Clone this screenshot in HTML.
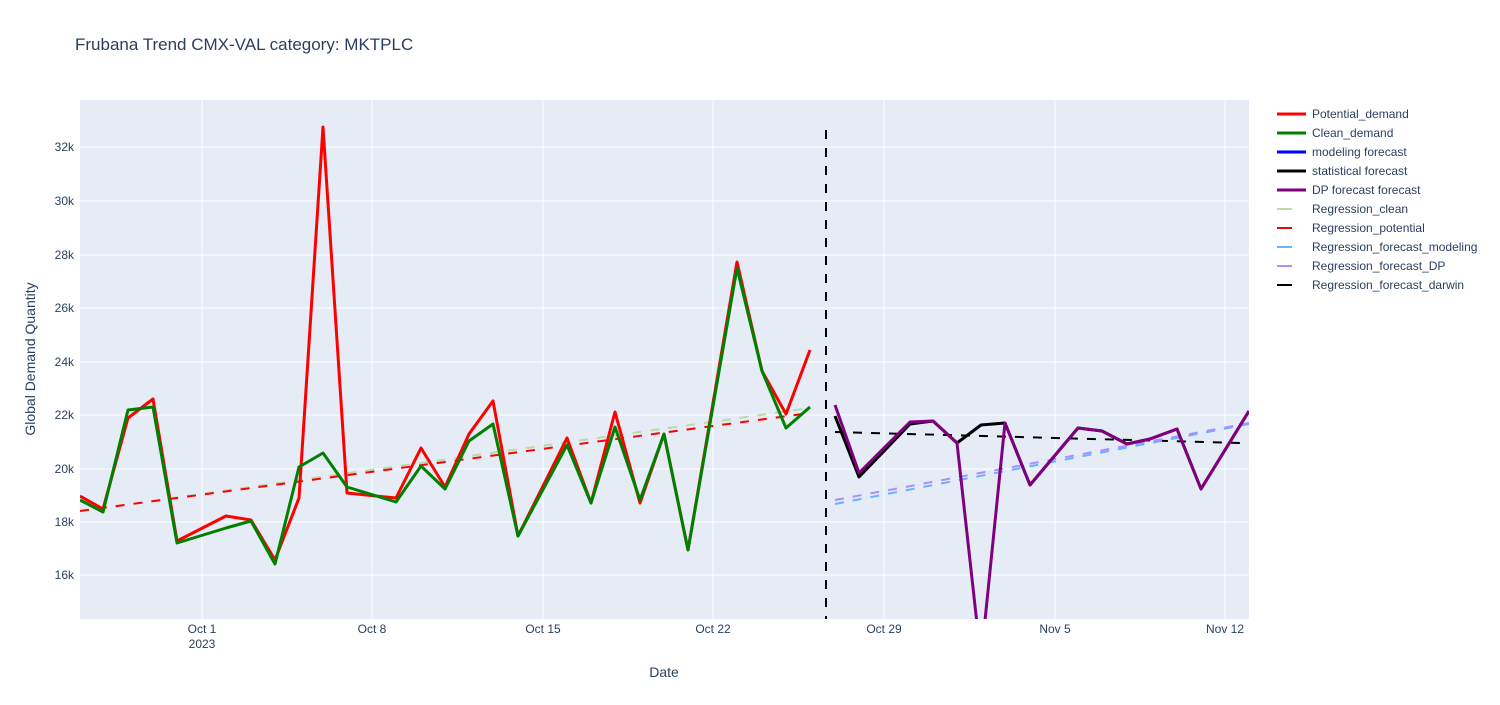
<!DOCTYPE html>
<html><head><meta charset="utf-8"><style>
html,body{margin:0;padding:0;background:#fff;}
svg text{font-family:"Liberation Sans","DejaVu Sans",sans-serif;fill:#2a3f5f;}
</style></head><body>
<svg width="1500" height="700" xmlns="http://www.w3.org/2000/svg">
<defs><clipPath id="c"><rect x="80" y="100" width="1169" height="519"/></clipPath></defs>
<rect x="80" y="100" width="1169" height="519" fill="#e5ecf6"/>
<g stroke="#fff" stroke-width="1">
<line x1="80" x2="1249" y1="147" y2="147"/><line x1="80" x2="1249" y1="201" y2="201"/>
<line x1="80" x2="1249" y1="255" y2="255"/><line x1="80" x2="1249" y1="308" y2="308"/>
<line x1="80" x2="1249" y1="362" y2="362"/><line x1="80" x2="1249" y1="415" y2="415"/>
<line x1="80" x2="1249" y1="469" y2="469"/><line x1="80" x2="1249" y1="522" y2="522"/>
<line x1="80" x2="1249" y1="575" y2="575"/>
<line y1="100" y2="619" x1="202" x2="202"/><line y1="100" y2="619" x1="372" x2="372"/>
<line y1="100" y2="619" x1="543" x2="543"/><line y1="100" y2="619" x1="713" x2="713"/>
<line y1="100" y2="619" x1="884" x2="884"/><line y1="100" y2="619" x1="1055" x2="1055"/>
<line y1="100" y2="619" x1="1225" x2="1225"/>
</g>
<g clip-path="url(#c)" fill="none" stroke-linejoin="round">
<polyline stroke="#b5dcaa" stroke-width="2" stroke-dasharray="9,9" points="80,511 810,408"/>
<polyline stroke="#ff0000" stroke-width="2" stroke-dasharray="9,9" points="80,511 810,413"/>
<polyline stroke="#ff0000" stroke-width="3" points="80,496 103,509 128,418 153,399 177,541 226,516 251,520 275,560 299,498 323,127 347,493 396,498 421,448 445,487 469,434 493,401 518,536 567,438 591,503 615,412 640,503 664,434 688,550 737,262 762,371 786,414 810,350"/>
<polyline stroke="#008000" stroke-width="3" points="80,500 103,512 128,410 153,407 177,543 226,528 251,521 275,564 299,467 323,453 347,487 396,502 421,466 445,489 469,441 493,424 518,536 567,445 591,503 615,427 640,500 664,434 688,550 737,268 762,371 786,428 810,407"/>
<polyline stroke="#000" stroke-width="2" stroke-dasharray="9,9" points="835,432 1241,443"/>
<polyline stroke="#66b3ff" stroke-width="2" stroke-dasharray="9,9" points="835,504 1249,424"/>
<polyline stroke="#b08cff" stroke-width="2" stroke-dasharray="9,9" points="835,500 1249,423"/>
<polyline stroke="#000" stroke-width="3" points="835,416 859,477 910,424 933,421 957,443 981,425 1005,423 1030,485 1078,428 1102,431 1127,444 1150,439 1177,429 1201,489 1249,411"/>
<polyline stroke="#800080" stroke-width="3" points="835,405 859,473 910,422 933,421 957,443 981,660 1005,423 1030,485 1078,428 1102,431 1127,444 1150,439 1177,429 1201,489 1249,411"/>
</g>
<line x1="826" x2="826" y1="130" y2="619" stroke="#000" stroke-width="2" stroke-dasharray="9,9"/>
<g font-size="12" text-anchor="end">
<text x="74" y="151">32k</text><text x="74" y="205">30k</text><text x="74" y="259">28k</text>
<text x="74" y="312">26k</text><text x="74" y="366">24k</text><text x="74" y="419">22k</text>
<text x="74" y="473">20k</text><text x="74" y="526">18k</text><text x="74" y="579">16k</text>
</g>
<g font-size="12" text-anchor="middle">
<text x="202" y="633">Oct 1</text><text x="202" y="648">2023</text>
<text x="372" y="633">Oct 8</text><text x="543" y="633">Oct 15</text><text x="713" y="633">Oct 22</text>
<text x="884" y="633">Oct 29</text><text x="1055" y="633">Nov 5</text><text x="1225" y="633">Nov 12</text>
</g>
<text x="664" y="677" font-size="14" text-anchor="middle">Date</text>
<text transform="translate(35,359) rotate(-90)" font-size="14" text-anchor="middle">Global Demand Quantity</text>
<text x="75" y="50" font-size="17">Frubana Trend CMX-VAL category: MKTPLC</text>
<g font-size="12">
<line x1="1277" x2="1306" y1="114" y2="114" stroke="#ff0000" stroke-width="3"/><text x="1312" y="118">Potential_demand</text>
<line x1="1277" x2="1306" y1="133" y2="133" stroke="#008000" stroke-width="3"/><text x="1312" y="137">Clean_demand</text>
<line x1="1277" x2="1306" y1="152" y2="152" stroke="#0000ff" stroke-width="3"/><text x="1312" y="156">modeling forecast</text>
<line x1="1277" x2="1306" y1="171" y2="171" stroke="#000" stroke-width="3"/><text x="1312" y="175">statistical forecast</text>
<line x1="1277" x2="1306" y1="190" y2="190" stroke="#800080" stroke-width="3"/><text x="1312" y="194">DP forecast forecast</text>
<line x1="1277" x2="1292" y1="209" y2="209" stroke="#b5dcaa" stroke-width="2"/><text x="1312" y="213">Regression_clean</text>
<line x1="1277" x2="1292" y1="228" y2="228" stroke="#ff0000" stroke-width="2"/><text x="1312" y="232">Regression_potential</text>
<line x1="1277" x2="1292" y1="247" y2="247" stroke="#66b3ff" stroke-width="2"/><text x="1312" y="251">Regression_forecast_modeling</text>
<line x1="1277" x2="1292" y1="266" y2="266" stroke="#b08cff" stroke-width="2"/><text x="1312" y="270">Regression_forecast_DP</text>
<line x1="1277" x2="1292" y1="285" y2="285" stroke="#000" stroke-width="2"/><text x="1312" y="289">Regression_forecast_darwin</text>
</g>
</svg>
</body></html>
